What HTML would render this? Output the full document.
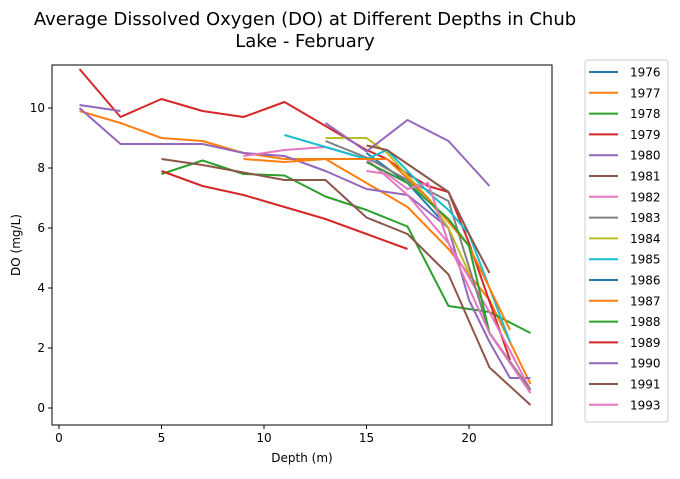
<!DOCTYPE html>
<html><head><meta charset="utf-8"><style>
body{margin:0;background:#fff;font-family:"DejaVu Sans","Liberation Sans",sans-serif}
</style></head><body>
<svg id="chart" width="680" height="475" xmlns="http://www.w3.org/2000/svg" font-family="DejaVu Sans, Liberation Sans, sans-serif">
<text x="305" y="25" font-size="18" text-anchor="middle">Average Dissolved Oxygen (DO) at Different Depths in Chub</text>
<text x="305" y="47" font-size="18" text-anchor="middle">Lake - February</text>
<g id="plot"></g>
<rect x="52" y="65" width="500" height="360" fill="none" stroke="#000" stroke-width="1"/>
<text x="302" y="462" font-size="12" text-anchor="middle">Depth (m)</text>
<text x="20" y="245" font-size="12" text-anchor="middle" transform="rotate(-90 20 245)">DO (mg/L)</text>
<rect x="585" y="60" width="83" height="362" rx="3" fill="#fff" stroke="#ccc"/>
<g id="legend"></g>
</svg>
<script>
const years=["1976","1977","1978","1979","1980","1981","1982","1983","1984","1985","1986","1987","1988","1989","1990","1991","1993"];
const colors=["#1f77b4","#ff7f0e","#2ca02c","#d62728","#9467bd","#8c564b","#e377c2","#7f7f7f","#bcbd22","#17becf","#1f77b4","#ff7f0e","#2ca02c","#d62728","#9467bd","#8c564b","#e377c2"];
const depths1976=[15,17,19];const do1976=[8.5,7.5,6.0];
const depths1977=[1,3,5,7,9,11,13,15,17,19,21,23];const do1977=[9.9,9.5,9.0,8.9,8.5,8.3,8.3,7.5,6.7,5.3,3.6,0.8];
const depths1978=[5,7,9,11,13,15,17,19,21,23];const do1978=[7.8,8.25,7.8,7.75,7.05,6.6,6.05,3.4,3.2,2.5];
const depths1979=[1,3,5,7,9,11,13,15,16,17,18,19,20,22];const do1979=[11.3,9.7,10.3,9.9,9.7,10.2,9.4,8.6,8.3,7.8,7.4,7.2,5.5,1.6];
const depths1980=[1,3,null,1,3,5,7,9,11,13,15,17,19,20,21,22,23];const do1980=[10.1,9.9,null,10.0,8.8,8.8,8.8,8.5,8.4,7.9,7.3,7.1,6.0,3.6,2.2,1.0,1.0];
const depths1981=[5,7,9,11,13,15,17,19,21,23];const do1981=[8.3,8.1,7.85,7.6,7.6,6.35,5.8,4.45,1.35,0.1];
const depths1982=[9,11,13,15,17,19,21,23];const do1982=[8.4,8.6,8.7,8.3,7.1,5.5,3.2,0.6];
const depths1983=[13,15,17,19,21,23];const do1983=[8.9,8.35,7.6,6.9,2.5,0.6];
const depths1984=[13,15,16,18,19,20];const do1984=[9.0,9.0,8.5,7.0,6.0,4.5];
const depths1985=[11,13,15,16,18,19,20,22];const do1985=[9.1,8.7,8.3,8.6,7.2,6.6,5.8,2.2];
const depths1986=[17,18];const do1986=[7.6,7.0];
const depths1987=[9,11,13,16,18,20,22];const do1987=[8.3,8.2,8.3,8.3,7.0,5.4,2.6];
const depths1988=[15,17,19,20,21,22];const do1988=[8.2,7.5,6.3,5.4,2.5,1.5];
const depths1989=[5,7,9,11,13,15,17];const do1989=[7.9,7.4,7.1,6.7,6.3,5.8,5.3];
const depths1990=[13,15,17,19,21];const do1990=[9.5,8.55,9.6,8.9,7.4];
const depths1991=[15,16,19,20,21];const do1991=[8.75,8.6,7.2,5.8,4.5];
const depths1993=[15,16,17,18,19,21,23];const do1993=[7.9,7.8,7.3,7.5,5.5,2.5,0.5];
const xTicks=[0,5,10,15,20];const yTicks=[0,2,4,6,8,10];
const allX=[depths1976,depths1977,depths1978,depths1979,depths1980,depths1981,depths1982,depths1983,depths1984,depths1985,depths1986,depths1987,depths1988,depths1989,depths1990,depths1991,depths1993];
const allY=[do1976,do1977,do1978,do1979,do1980,do1981,do1982,do1983,do1984,do1985,do1986,do1987,do1988,do1989,do1990,do1991,do1993];
const sx=d=>59+20.5*d, sy=v=>408-30*v;
const NS="http://www.w3.org/2000/svg";
const plot=document.getElementById('plot'), leg=document.getElementById('legend');
function mk(t,a){const e=document.createElementNS(NS,t);for(const k in a)e.setAttribute(k,a[k]);return e;}
xTicks.forEach(t=>{const g=mk('g',{});


g.appendChild(mk('line',{x1:sx(t),x2:sx(t),y1:425,y2:429,stroke:'#000'}));
const tx=mk('text',{x:sx(t),y:442,'font-size':12,'text-anchor':'middle'});tx.textContent=t;g.appendChild(tx);plot.appendChild(g);});
yTicks.forEach(t=>{const g=mk('g',{});


g.appendChild(mk('line',{x1:48,x2:52,y1:sy(t),y2:sy(t),stroke:'#000'}));
const tx=mk('text',{x:45,y:sy(t)+4,'font-size':12,'text-anchor':'end'});tx.textContent=t;g.appendChild(tx);plot.appendChild(g);});
years.forEach((yr,i)=>{
let d='',pen=false;
allX[i].forEach((x,j)=>{const v=allY[i][j];if(x===null||v===null){pen=false;return;}d+=(pen?'L':'M')+sx(x)+' '+sy(v)+' ';pen=true;});
const p=mk('path',{d:d,fill:'none',stroke:colors[i],'stroke-width':2,'stroke-linejoin':'round'});


plot.appendChild(p);
const y=72+i*20.8;
const g=mk('g',{});


g.appendChild(mk('line',{x1:589,x2:618,y1:y,y2:y,stroke:colors[i],'stroke-width':2}));
const tx=mk('text',{x:630,y:y+4.5,'font-size':12});tx.textContent=yr;g.appendChild(tx);leg.appendChild(g);
});
</script>
</body></html>
